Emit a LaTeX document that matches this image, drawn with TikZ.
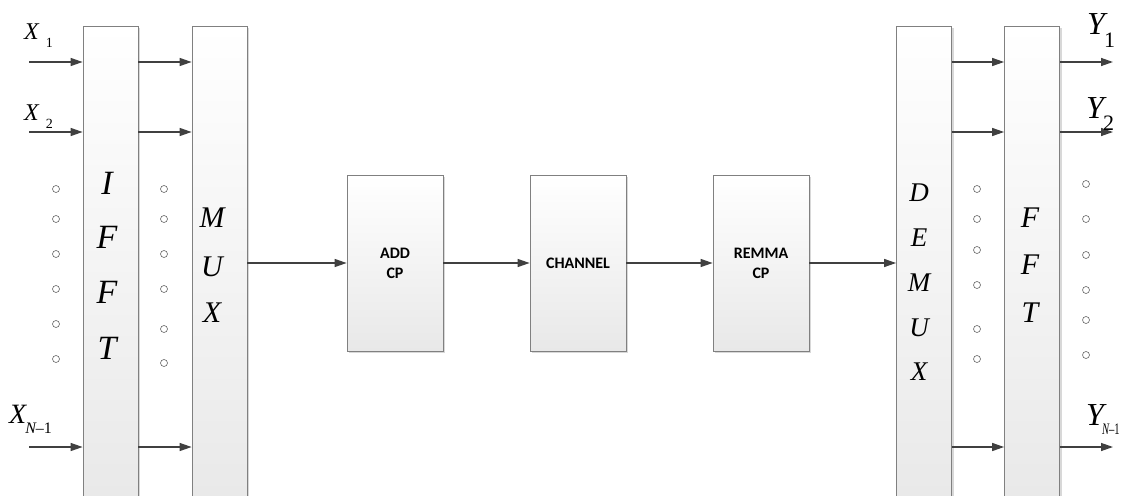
\documentclass[tikz,border=0pt]{standalone}
\usepackage{fontspec}
\newfontfamily\tnr{Liberation Serif}
\newfontfamily\calfont{Carlito}
\usetikzlibrary{arrows.meta,shadows}
\begin{document}
\begin{tikzpicture}[x=1pt,y=-1pt,
  blk/.style={draw=black!50, line width=0.8pt, top color=white, bottom color=black!9,
    drop shadow={shadow xshift=2pt,shadow yshift=-2pt,fill=black!30,opacity=0.5}, inner sep=0pt},
  tall/.style={blk, minimum width=55pt, minimum height=490pt},
  mid/.style={blk, minimum width=96pt, minimum height=176pt,
    font=\calfont\bfseries\fontsize{16}{20}\selectfont, align=center},
  arr/.style={draw=black!75, line width=1.3pt, -{Triangle[length=12pt,width=8pt]}},
  dot/.style={circle, draw=black!60, fill=white, line width=0.6pt, minimum size=7pt, inner sep=0pt},
  let/.style={inner sep=0pt, font=\tnr\itshape},
  lab/.style={inner sep=0pt, anchor=base west, font=\tnr\itshape},
]
\path[use as bounding box] (0,0) rectangle (1121,495);
\clip (0,0) rectangle (1121,495);

% blocks
\node[tall] (ifft)  at (110.5,271) {};
\node[tall] (mux)   at (219.5,271) {};
\node[tall] (demux) at (924,271) {};
\node[tall] (fft)   at (1032,271) {};
\node[mid] (add)  at (395,263) {ADD\\CP};
\node[mid] (chan) at (578,263) {CHANNEL};
\node[mid] (rem)  at (761,263) {REMMA\\CP};

% letters in tall blocks
\foreach \c/\y [count=\i] in {I/183,F/237,F/292,T/348}
  \node[let, font=\tnr\itshape\fontsize{34}{34}\selectfont] (li\i) at (107,\y) {\c};
\foreach \c/\y [count=\i] in {M/218,U/267,X/313}
  \node[let, font=\tnr\itshape\fontsize{30}{30}\selectfont] (lm\i) at (212,\y) {\c};
\foreach \c/\y [count=\i] in {D/193,E/238,M/283,U/328,X/372}
  \node[let, font=\tnr\itshape\fontsize{27}{27}\selectfont] (ld\i) at (919,\y) {\c};
\foreach \c/\y [count=\i] in {F/218,F/265,T/313}
  \node[let, font=\tnr\itshape\fontsize{30}{30}\selectfont] (lf\i) at (1030,\y) {\c};

% dots
\foreach \y [count=\i] in {189,219,254,289,324,359}
  \node[dot] (da\i) at (56,\y) {};
\foreach \y [count=\i] in {189,219,254,289,329,363}
  \node[dot] (db\i) at (164,\y) {};
\foreach \y [count=\i] in {189,219,250,285,329,359}
  \node[dot] (dc\i) at (977,\y) {};
\foreach \y [count=\i] in {184,219,255,290,320,355}
  \node[dot] (dd\i) at (1086,\y) {};

% input / output coordinates
\coordinate (x1) at (29,62);
\coordinate (x2) at (29,132);
\coordinate (xn) at (29,447);
\coordinate (y1) at (1113,62);
\coordinate (y2) at (1113,132);
\coordinate (yn) at (1113,447);

% arrows
\foreach \p in {x1,x2,xn} {
  \draw[arr] (\p) -- (ifft.west |- \p);
  \draw[arr] (ifft.east |- \p) -- (mux.west |- \p);
  \draw[arr] (demux.east |- \p) -- (fft.west |- \p);
}
\foreach \p in {y1,y2,yn}
  \draw[arr] (fft.east |- \p) -- (\p);
\draw[arr] (mux.east |- add.west) -- (add.west);
\draw[arr] (add.east) -- (chan.west);
\draw[arr] (chan.east) -- (rem.west);
\draw[arr] (rem.east) -- (demux.west |- rem.east);

% labels
\node[lab] (lx1) at (24,40) {\fontsize{24}{24}\selectfont X\hspace{7pt}\raisebox{-8pt}{\fontsize{14}{14}\selectfont\upshape 1}};
\node[lab] (lx2) at (24,120) {\fontsize{24}{24}\selectfont X\hspace{7pt}\raisebox{-8pt}{\fontsize{14}{14}\selectfont\upshape 2}};
\node[lab] (lxn) at (9,423) {\fontsize{28}{28}\selectfont X\hspace{-1pt}\raisebox{-10pt}{\fontsize{16}{16}\selectfont N\upshape\textendash 1}};
\node[lab] (ly1) at (1087,35) {\fontsize{32}{32}\selectfont Y\hspace{-1pt}\raisebox{-13pt}{\fontsize{22}{22}\selectfont\upshape 1}};
\node[lab] (ly2) at (1086,118) {\fontsize{32}{32}\selectfont Y\hspace{-1pt}\raisebox{-12pt}{\fontsize{22}{22}\selectfont\upshape 2}};
\node[lab] (lyn) at (1086,425) {\fontsize{32}{32}\selectfont Y\hspace{-2pt}\raisebox{-9pt}{\scalebox{0.66}[1]{\fontsize{16}{16}\selectfont N\upshape\textendash 1}}};
\end{tikzpicture}
\end{document}
